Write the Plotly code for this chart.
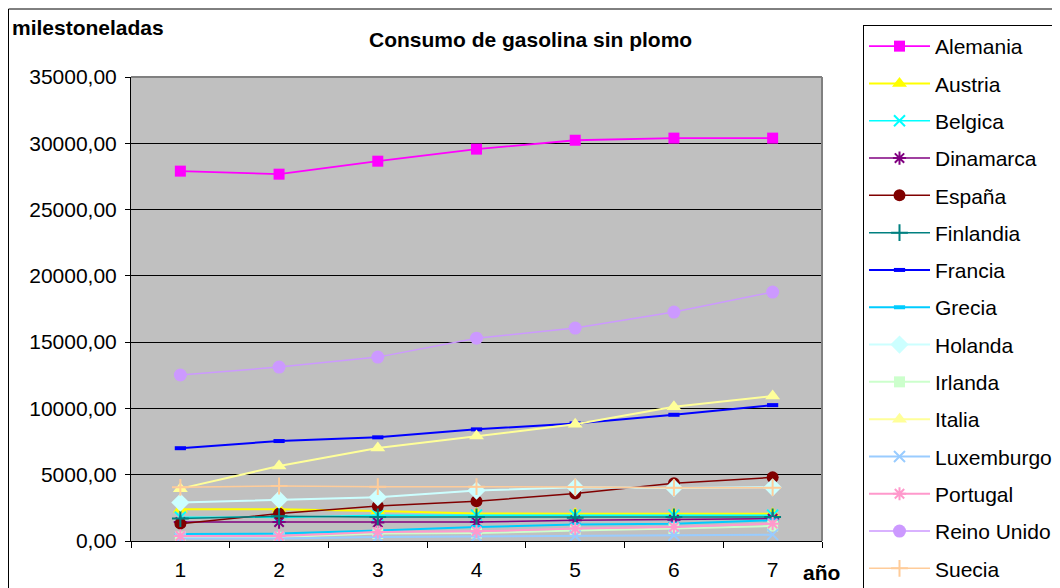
import plotly.graph_objects as go

years = ["1", "2", "3", "4", "5", "6", "7"]

alemania = [27900, 27670, 28650, 29560, 30230, 30390, 30390]
austria = [2400, 2390, 2260, 2070, 2060, 2060, 2060]
belgica = [1800, 1780, 1950, 1950, 1950, 1950, 1950]
dinamarca = [1430, 1430, 1400, 1430, 1560, 1610, 1690]
espana = [1310, 2065, 2640, 2990, 3590, 4350, 4800]
finlandia = [1690, 1860, 1810, 1810, 1760, 1810, 1810]
francia = [7000, 7540, 7820, 8420, 8870, 9520, 10250]
grecia = [520, 560, 800, 1060, 1240, 1310, 1560]
holanda = [2900, 3120, 3300, 3800, 4050, 4000, 4050]
irlanda = [300, 300, 560, 600, 800, 935, 1130]
italia = [3950, 5650, 7010, 7920, 8800, 10130, 10930]
luxemburgo = [180, 180, 300, 355, 380, 430, 480]
portugal = [380, 380, 680, 730, 935, 1060, 1310]
reino_unido = [12520, 13120, 13870, 15300, 16060, 17270, 18780]
suecia = [4050, 4150, 4100, 4100, 4080, 4020, 4020]

series = [
    ("Alemania", alemania, "#FF00FF", "square", 11, 1.8),
    ("Austria", austria, "#FFFF00", "triangle-up", 13, 2),
    ("Belgica", belgica, "#00FFFF", "x-thin-open", 11, 1.5),
    ("Dinamarca", dinamarca, "#800080", "asterisk-open", 11, 1.5),
    ("España", espana, "#800000", "circle", 12, 1.5),
    ("Finlandia", finlandia, "#008080", "cross-thin-open", 12, 1.5),
    ("Francia", francia, "#0000FF", "line-ew-open", 8, 2),
    ("Grecia", grecia, "#00CCFF", "line-ew-open", 8, 2),
    ("Holanda", holanda, "#CCFFFF", "diamond", 14, 2),
    ("Irlanda", irlanda, "#CCFFCC", "square", 11, 2),
    ("Italia", italia, "#FFFF99", "triangle-up", 13, 2),
    ("Luxemburgo", luxemburgo, "#99CCFF", "x-thin-open", 11, 2),
    ("Portugal", portugal, "#FF99CC", "asterisk-open", 11, 2),
    ("Reino Unido", reino_unido, "#CC99FF", "circle", 13, 1.5),
    ("Suecia", suecia, "#FFCC99", "cross-thin-open", 12, 1.5),
]

fig = go.Figure()
for name, vals, color, sym, size, lw in series:
    open_sym = sym.endswith("-open")
    mline = dict(width=4 if sym.startswith("line") else (2 if open_sym else 0), color=color)
    fig.add_trace(go.Scatter(
        x=years, y=vals, name=name, mode="lines+markers",
        line=dict(color=color, width=lw),
        marker=dict(symbol=sym, size=size, color=color, line=mline),
        legendgroup=name,
    ))

# figure coordinates (page minus 8px body margin)
W, H = 1052, 580
L, R, T, B = 123, 814, 69, 533
def px(xp):
    return (xp - L) / (R - L)
def py(yp):
    return (B - yp) / (B - T)

FS = 21

fig.update_layout(
    width=W, height=H,
    margin=dict(l=L, r=W - R, t=T, b=H - B, pad=0, autoexpand=False),
    paper_bgcolor="white",
    plot_bgcolor="#C0C0C0",
    separators=", ",
    font=dict(family="Liberation Sans, Arial, sans-serif", size=FS, color="black"),
    showlegend=True,
    legend=dict(
        x=px(855), y=py(17), xanchor="left", yanchor="top",
        bordercolor="black", borderwidth=1, bgcolor="white",
        font=dict(size=FS), tracegroupgap=7, itemwidth=61,
        maxheight=800,
    ),
    xaxis=dict(
        type="category", range=[-0.5, 6.5], tickson="boundaries",
        ticks="outside", ticklen=6, tickcolor="black", tickwidth=1,
        showline=True, linecolor="black", linewidth=1,
        showgrid=False, zeroline=False,
        tickfont=dict(size=FS), ticklabelstandoff=10,
    ),
    yaxis=dict(
        range=[0, 35000], dtick=5000, tickformat=".2f",
        ticks="outside", ticklen=5, tickcolor="black", tickwidth=1,
        showline=True, linecolor="black", linewidth=1,
        showgrid=True, gridcolor="black", gridwidth=1,
        zeroline=False, tickfont=dict(size=FS), ticklabelstandoff=4,
    ),
    shapes=[
        dict(type="line", xref="paper", yref="paper", x0=0, x1=1, y0=1, y1=1,
             line=dict(color="#808080", width=2)),
        dict(type="line", xref="paper", yref="paper", x0=1, x1=1, y0=0, y1=1,
             line=dict(color="#808080", width=2)),
        dict(type="rect", xref="paper", yref="paper", x0=px(0.5), x1=px(1070),
             y0=py(600), y1=py(1), line=dict(color="black", width=1),
             fillcolor="rgba(0,0,0,0)", layer="below"),
    ],
    annotations=[
        dict(text="<b>Consumo de gasolina sin plomo</b>", xref="paper", yref="paper",
             x=px(522), y=py(31), xanchor="center", yanchor="middle",
             showarrow=False, font=dict(size=FS)),
        dict(text="<b>milestoneladas</b>", xref="paper", yref="paper",
             x=px(2), y=py(20), xanchor="left", yanchor="middle",
             showarrow=False, font=dict(size=FS)),
        dict(text="<b>año</b>", xref="paper", yref="paper",
             x=px(813), y=py(564), xanchor="center", yanchor="middle",
             showarrow=False, font=dict(size=FS)),
    ],
)

fig.write_html("out.html")
